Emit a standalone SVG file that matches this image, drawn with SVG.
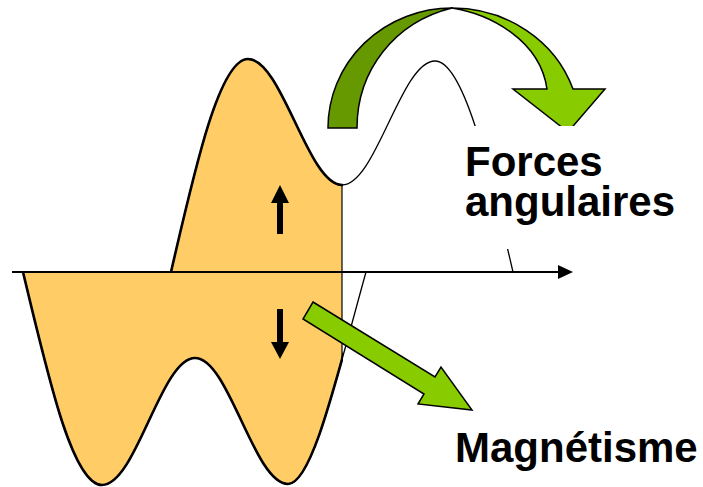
<svg xmlns="http://www.w3.org/2000/svg" width="703" height="487" viewBox="0 0 703 487">
  <style>
    .fill { fill: #FFCC66; stroke: none; }
    .thick { fill: none; stroke: #000; stroke-width: 2.6; stroke-linejoin: round; }
    .thin { fill: none; stroke: #000; stroke-width: 1.3; }
    .lbl { font-family: "Liberation Sans", Arial, sans-serif; font-weight: bold; font-size: 42px; fill: #000; }
    .green { stroke: #000; stroke-width: 1.5; stroke-linejoin: miter; }
  </style>
  <defs>
    <clipPath id="leftClip"><rect x="0" y="0" width="342" height="487"/></clipPath>
    <clipPath id="leftClipStroke"><rect x="0" y="0" width="343" height="487"/></clipPath>
    <path id="curveA" d="M23,272 C49,381 73,485 102,485 C136,485 161,358 195,358 C229,358 254,484 288,484 C312,484 336,380 366,272"/>
    <path id="curveB" d="M171,272 C196,163 220,59 248,59 C282,59 308,185 342,185 C376,185 401,61 435,61 C463,61 488,164 513,272"/>
  </defs>

  <g id="wave-fill" clip-path="url(#leftClip)">
    <path class="fill" d="M23,272 C49,381 73,485 102,485 C136,485 161,358 195,358 C229,358 254,484 288,484 C312,484 336,380 366,272 Z"/>
    <path class="fill" d="M171,272 C196,163 220,59 248,59 C282,59 308,185 342,185 C376,185 401,61 435,61 C463,61 488,164 513,272 Z"/>
  </g>

  <g id="waves">
    <use href="#curveA" class="thin"/>
    <use href="#curveB" class="thin"/>
    <g clip-path="url(#leftClipStroke)">
      <use href="#curveA" class="thick"/>
      <use href="#curveB" class="thick"/>
    </g>
    <line x1="342" y1="185" x2="342" y2="360" stroke="#000" stroke-width="1.2"/>
  </g>

  <g id="axis">
    <line x1="12" y1="272" x2="561" y2="272" stroke="#000" stroke-width="2"/>
    <polygon points="573,272 558,265 558,279" fill="#000"/>
  </g>

  <g id="arrow-up">
    <rect x="277" y="201" width="6" height="33" fill="#000"/>
    <polygon points="280,185 289,203 271,203" fill="#000"/>
  </g>
  <g id="arrow-down">
    <rect x="277" y="309" width="6" height="35" fill="#000"/>
    <polygon points="280,359 289,342 271,342" fill="#000"/>
  </g>

  <g id="curved-arrow">
    <path class="green" fill="#669900" d="M357,128 L328,128 A124,120 0 0 1 452,8 C395,22 357,70 357,128 Z"/>
    <path class="green" fill="#88CC00" d="M452,8 A128,120 0 0 1 573,89 L605,89 L568,132 L513,89 L547,89 C540,40 490,14 452,8 Z"/>
  </g>

  <g id="label-forces">
    <rect x="460" y="126" width="236" height="123" fill="#fff"/>
    <text class="lbl" x="465" y="176">Forces</text>
    <text class="lbl" x="465" y="216">angulaires</text>
  </g>

  <g id="straight-arrow">
    <polygon class="green" fill="#88CC00" points="313,302 435,377 441,367 472,410 418,404 424,394 303,319"/>
  </g>

  <g id="label-magnetisme">
    <text class="lbl" x="455" y="462">Magnétisme</text>
  </g>
</svg>
